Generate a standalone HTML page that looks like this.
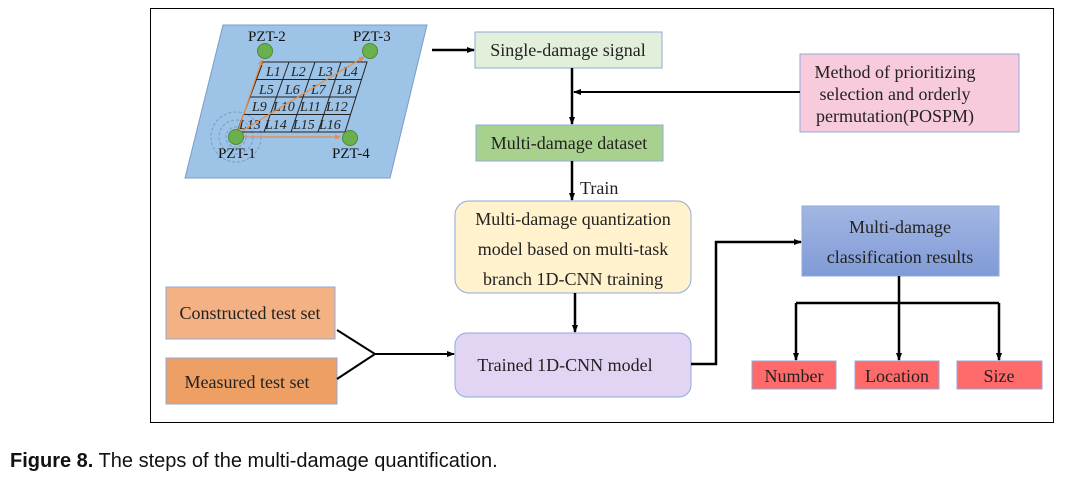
<!DOCTYPE html>
<html><head><meta charset="utf-8"><style>
html,body{margin:0;padding:0;background:#fff;}
svg{display:block;}
.t{font-family:"Liberation Serif",serif;font-size:18px;fill:#222;}
.l{font-family:"Liberation Serif",serif;font-size:14px;font-style:italic;fill:#222;}
.p{font-family:"Liberation Serif",serif;font-size:15px;fill:#111;}
</style></head><body>
<svg width="1071" height="480" viewBox="0 0 1071 480" xmlns="http://www.w3.org/2000/svg">
<defs>
<marker id="a" markerWidth="8" markerHeight="8" refX="7" refY="4" orient="auto" markerUnits="userSpaceOnUse"><path d="M0,1 L8,4 L0,7 z" fill="#000"/></marker>
<marker id="o" markerWidth="6" markerHeight="6" refX="5" refY="3" orient="auto" markerUnits="userSpaceOnUse"><path d="M0,0.5 L6,3 L0,5.5 z" fill="#f08a3c"/></marker>
<linearGradient id="bg" x1="0" y1="0" x2="0" y2="1"><stop offset="0" stop-color="#a3b7e3"/><stop offset="1" stop-color="#7f9ad6"/></linearGradient>
</defs>
<rect x="150.5" y="8.5" width="903" height="414" fill="none" stroke="#000" stroke-width="1"/>
<polygon points="223,25 427,25 390,178 185,178" fill="#9dc3e6" stroke="#7a9cc6"/>
<g stroke="#7a9cc6" stroke-dasharray="3,2" fill="none">
<circle cx="236" cy="137" r="10"/><circle cx="236" cy="137" r="17"/><circle cx="236" cy="137" r="25"/></g>
<g stroke="#222" stroke-width="1" fill="none">
<polygon points="263,62 367,62 345,132 237,132"/>
<line x1="256.5" y1="79.5" x2="361.5" y2="79.5"/>
<line x1="250" y1="97" x2="356" y2="97"/>
<line x1="243.5" y1="114.5" x2="350.5" y2="114.5"/>
<line x1="289" y1="62" x2="264" y2="132"/>
<line x1="315" y1="62" x2="291" y2="132"/>
<line x1="341" y1="62" x2="318" y2="132"/>
</g>
<g class="l">
<text x="266" y="76">L1</text><text x="291" y="76">L2</text><text x="318" y="76">L3</text><text x="343" y="76">L4</text>
<text x="259" y="94">L5</text><text x="285" y="94">L6</text><text x="311" y="94">L7</text><text x="337" y="94">L8</text>
<text x="252" y="111">L9</text><text x="273" y="111">L10</text><text x="300" y="111">L11</text><text x="326" y="111">L12</text>
<text x="239" y="129">L13</text><text x="265" y="129">L14</text><text x="293" y="129">L15</text><text x="319" y="129">L16</text>
</g>
<g stroke="#f08a3c" stroke-width="1.2">
<line x1="238" y1="131" x2="262" y2="60" marker-end="url(#o)"/><line x1="240" y1="132" x2="364" y2="57" marker-end="url(#o)"/><line x1="244" y1="137" x2="340" y2="137" marker-end="url(#o)"/>
</g>
<g fill="#6ab04c" stroke="#4e8a36"><circle cx="265" cy="51" r="7.5"/><circle cx="370" cy="51" r="7.5"/><circle cx="236" cy="137" r="7.5"/><circle cx="350" cy="138" r="7.5"/></g>
<g class="p"><text x="248" y="41">PZT-2</text><text x="353" y="41">PZT-3</text><text x="218" y="158">PZT-1</text><text x="332" y="158">PZT-4</text></g>
<rect x="475" y="32" width="187" height="36" fill="#e2efda" stroke="#8eaadb"/>
<text class="t" x="568" y="56" text-anchor="middle">Single-damage signal</text>
<rect x="476" y="125" width="187" height="36" fill="#a9d18e" stroke="#8eaadb"/>
<text class="t" x="569" y="149" text-anchor="middle">Multi-damage dataset</text>
<rect x="800" y="54" width="219" height="78" fill="#f8cbdc" stroke="#8eaadb"/>
<text class="t" x="895" y="78" text-anchor="middle">Method of prioritizing</text>
<text class="t" x="895" y="100" text-anchor="middle">selection and orderly</text>
<text class="t" x="895" y="122" text-anchor="middle">permutation(POSPM)</text>
<rect x="455" y="201" width="236" height="92" rx="14" fill="#fff2cc" stroke="#8eaadb"/>
<text class="t" x="573" y="225" text-anchor="middle">Multi-damage quantization</text>
<text class="t" x="573" y="255" text-anchor="middle">model based on multi-task</text>
<text class="t" x="573" y="285" text-anchor="middle">branch 1D-CNN training</text>
<rect x="455" y="333" width="236" height="64" rx="12" fill="#e2d5f3" stroke="#8eaadb"/>
<text class="t" x="565" y="371" text-anchor="middle">Trained 1D-CNN model</text>
<rect x="802" y="206" width="197" height="70" fill="url(#bg)" stroke="#8eaadb"/>
<text class="t" x="900" y="233" text-anchor="middle">Multi-damage</text>
<text class="t" x="900" y="263" text-anchor="middle">classification  results</text>
<rect x="752" y="361" width="84" height="28" fill="#ff6b6b" stroke="#8eaadb"/>
<text class="t" x="794" y="382" text-anchor="middle">Number</text>
<rect x="855" y="361" width="84" height="28" fill="#ff6b6b" stroke="#8eaadb"/>
<text class="t" x="897" y="382" text-anchor="middle">Location</text>
<rect x="957" y="361" width="85" height="28" fill="#ff6b6b" stroke="#8eaadb"/>
<text class="t" x="999" y="382" text-anchor="middle">Size</text>
<rect x="166" y="287" width="169" height="52" fill="#f4b183" stroke="#8eaadb"/>
<text class="t" x="250" y="319" text-anchor="middle">Constructed test set</text>
<rect x="166" y="358" width="171" height="46" fill="#ee9f63" stroke="#8eaadb"/>
<text class="t" x="247" y="388" text-anchor="middle">Measured test set</text>
<g stroke="#000" stroke-width="2.5" fill="none">
<line x1="432" y1="50" x2="474" y2="50" marker-end="url(#a)"/>
<line x1="572" y1="68" x2="572" y2="124" marker-end="url(#a)"/>
<line x1="800" y1="92" x2="574" y2="92" marker-end="url(#a)" stroke-width="2"/>
<line x1="572" y1="161" x2="572" y2="200" marker-end="url(#a)"/>
<line x1="575" y1="293" x2="575" y2="332" marker-end="url(#a)"/>
<polyline points="691,364 716,364 716,242 801,242" marker-end="url(#a)"/>
<line x1="899" y1="276" x2="899" y2="303"/>
<line x1="796" y1="303" x2="999" y2="303"/>
<line x1="796" y1="303" x2="796" y2="360" marker-end="url(#a)"/>
<line x1="899" y1="303" x2="899" y2="360" marker-end="url(#a)"/>
<line x1="999" y1="303" x2="999" y2="360" marker-end="url(#a)"/>
<polyline points="337,330 375,354 337,379" stroke-width="2"/>
<line x1="375" y1="354" x2="454" y2="354" marker-end="url(#a)" stroke-width="2"/>
</g>
<text class="t" x="580" y="194">Train</text>
<text x="10" y="467" font-family="'Liberation Sans',sans-serif" font-size="20" fill="#111"><tspan font-weight="bold">Figure 8.</tspan>  The steps of the multi-damage quantification.</text>
</svg>
</body></html>
